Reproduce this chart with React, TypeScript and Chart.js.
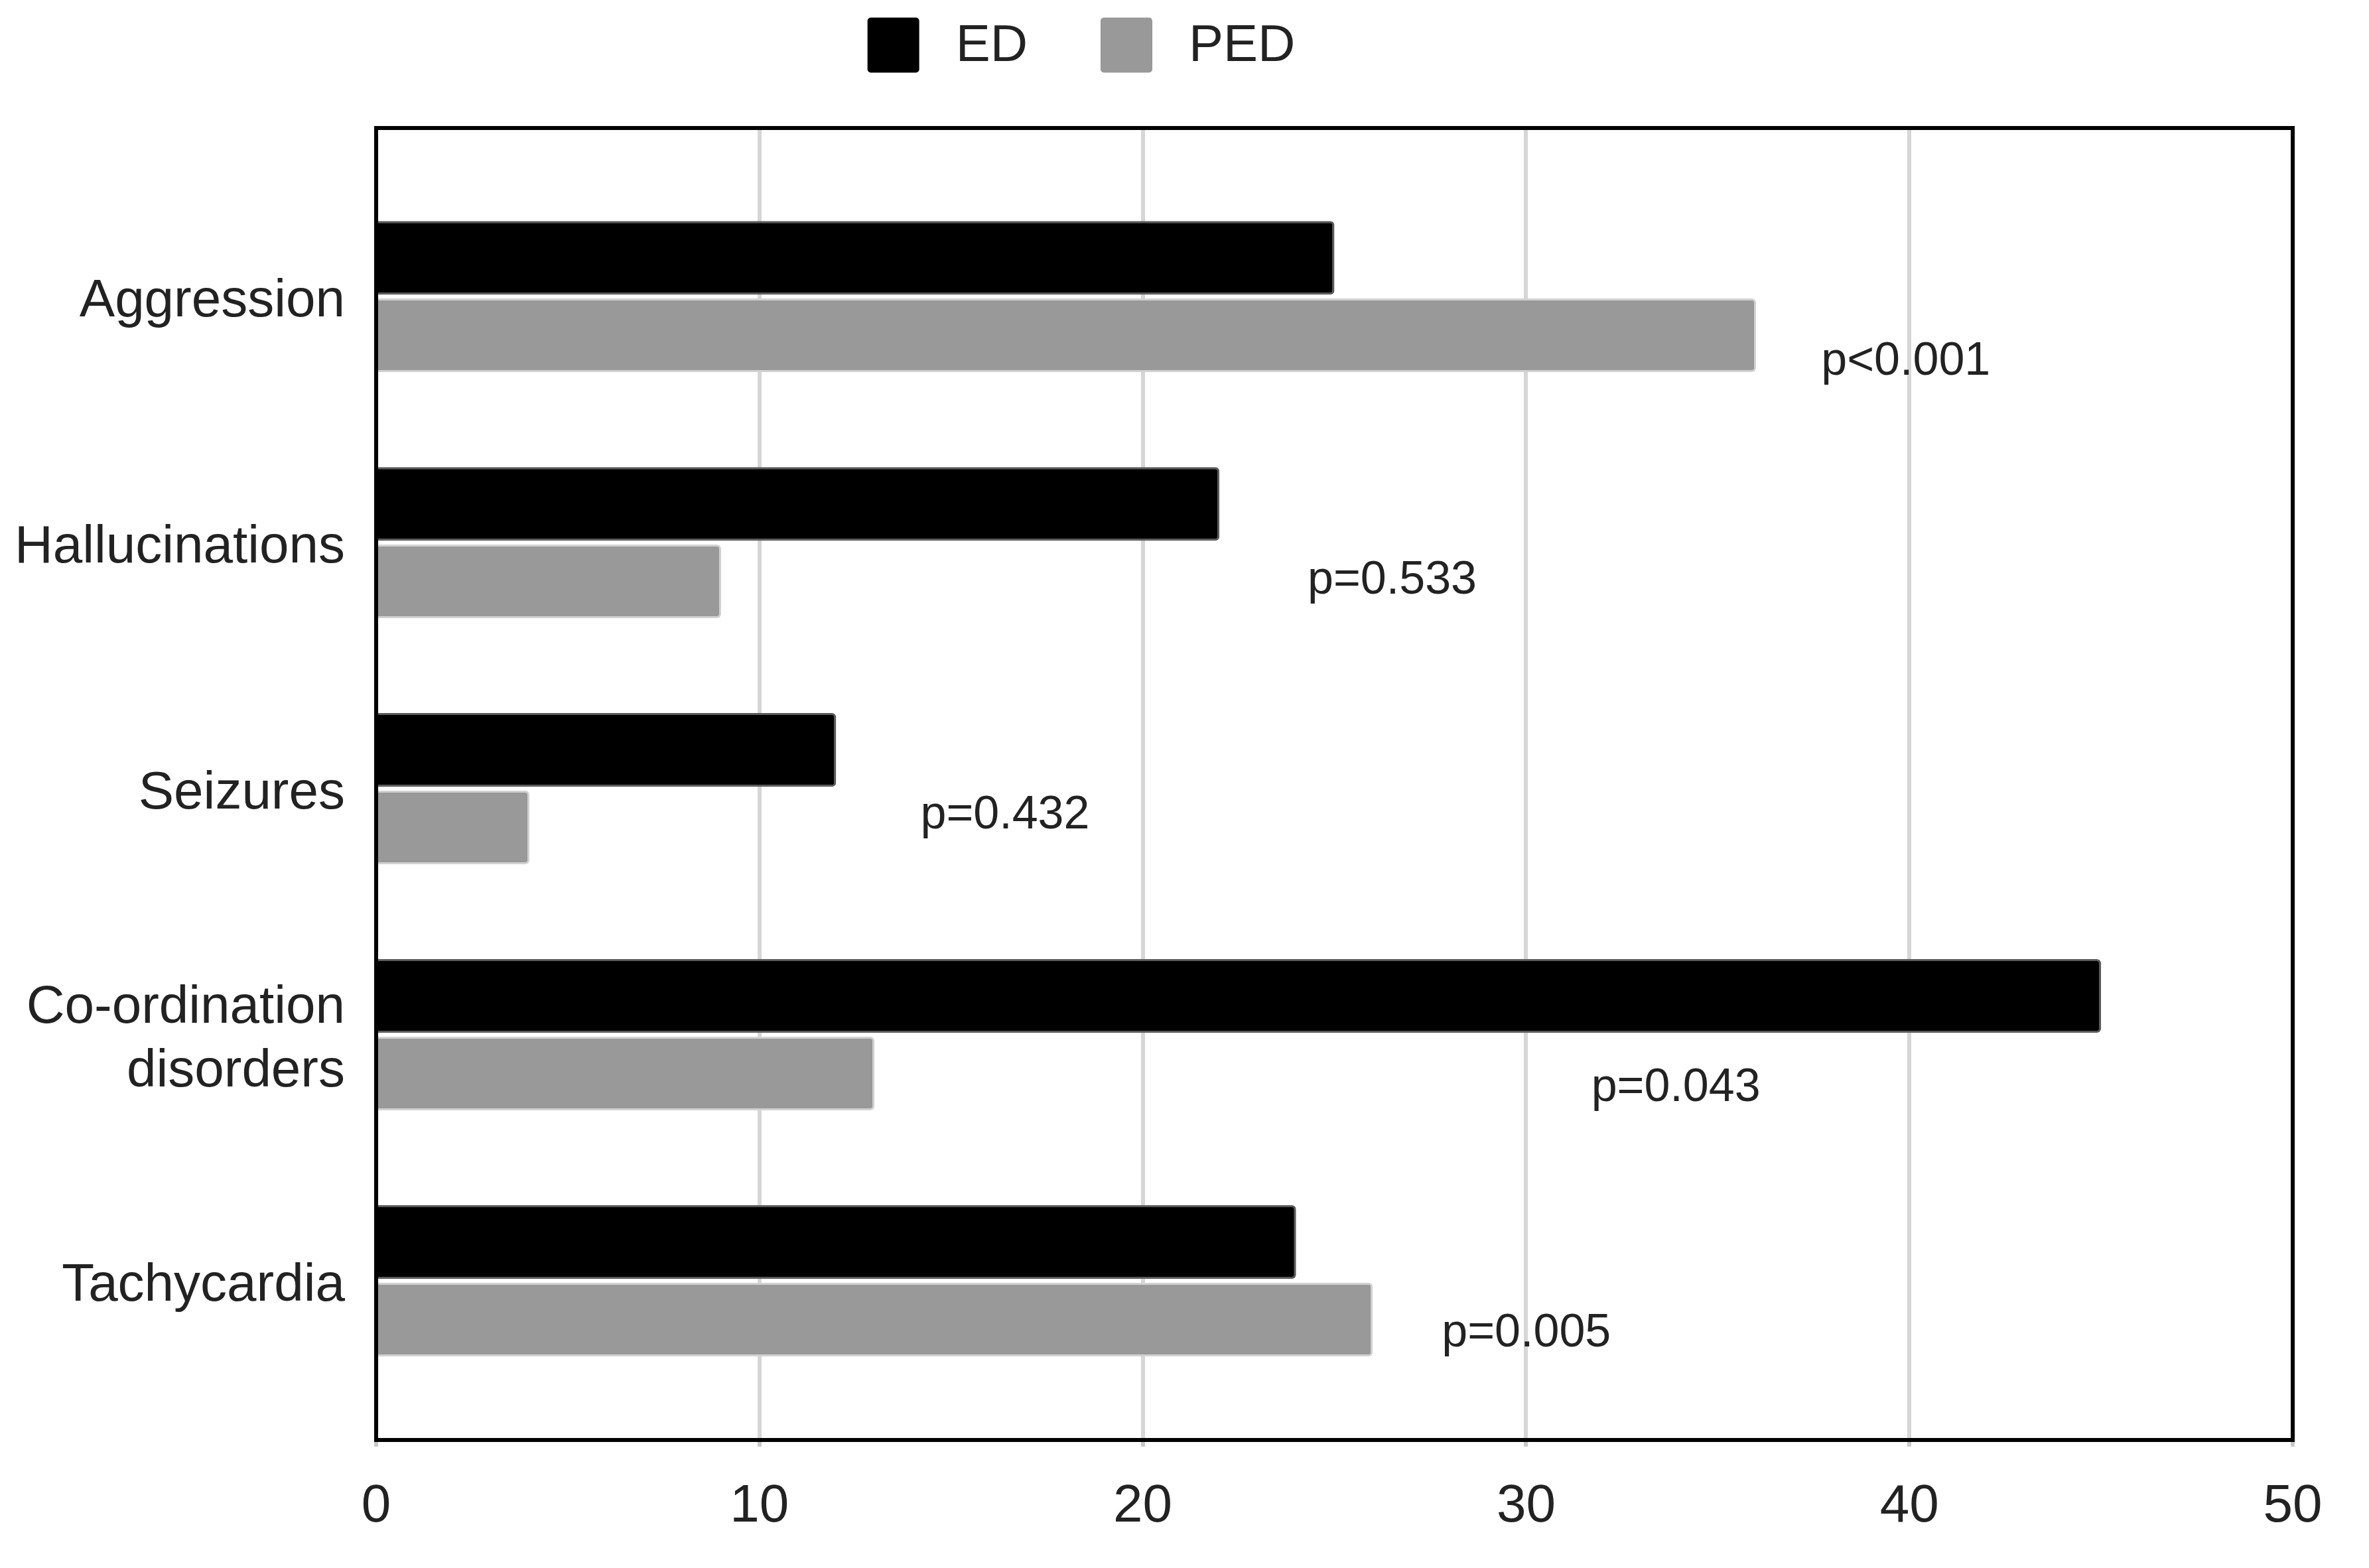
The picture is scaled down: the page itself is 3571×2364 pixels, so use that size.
import React, { useEffect, useRef } from "react";
import { Chart, registerables } from "chart.js";

Chart.register(...registerables);

// ---- data ----
const categories: (string | string[])[] = [
  "Aggression",
  "Hallucinations",
  "Seizures",
  ["Co-ordination", "disorders"],
  "Tachycardia",
];
const seriesNames = ["ED", "PED"];
const edValues = [25, 22, 12, 45, 24];
const pedValues = [36, 9, 4, 13, 26];
const pLabels = ["p<0.001", "p=0.533", "p=0.432", "p=0.043", "p=0.005"];
// annotation anchors in data units (x value, category index offset)
const pLabelX = [37.7, 24.3, 14.2, 31.7, 27.8];
const pLabelYOffset = [0.265, 0.155, 0.11, 0.217, 0.215];
const xTicks = [0, 10, 20, 30, 40, 50];

const FONT = "'Liberation Sans', Arial, Helvetica, sans-serif";
const W = 3555;
const H = 2348;

const framePlugin = {
  id: "frame",
  afterDatasetsDraw(chart: any) {
    const { ctx, chartArea } = chart;
    ctx.save();
    ctx.strokeStyle = "#000";
    ctx.lineWidth = 6;
    ctx.strokeRect(
      chartArea.left,
      chartArea.top,
      chartArea.right - chartArea.left,
      chartArea.bottom - chartArea.top
    );
    ctx.restore();
  },
};

const pLabelPlugin = {
  id: "pLabels",
  afterDatasetsDraw(chart: any) {
    const { ctx } = chart;
    const xs = chart.scales.x;
    const ys = chart.scales.y;
    ctx.save();
    ctx.font = `70px ${FONT}`;
    ctx.fillStyle = "#222";
    ctx.textAlign = "left";
    ctx.textBaseline = "middle";
    pLabels.forEach((t, i) => {
      const x = xs.getPixelForValue(pLabelX[i]);
      const y = ys.getPixelForValue(i + pLabelYOffset[i]);
      ctx.fillText(t, x, y);
    });
    ctx.restore();
  },
};

const legendPlugin = {
  id: "customLegend",
  afterDraw(chart: any) {
    const { ctx } = chart;
    const ds = chart.data.datasets;
    const boxW = 78;
    const boxH = 83;
    const gapBoxText = 55;
    const gapItems = 110;
    const centerX = 1622;
    const centerY = 60;
    ctx.save();
    ctx.font = `78px ${FONT}`;
    const widths = ds.map((d: any) => ctx.measureText(d.label).width);
    let total = 0;
    widths.forEach((w: number, i: number) => {
      total += boxW + gapBoxText + w;
      if (i < widths.length - 1) total += gapItems;
    });
    let x = centerX - total / 2;
    ds.forEach((d: any, i: number) => {
      ctx.fillStyle = d.backgroundColor;
      ctx.beginPath();
      (ctx as any).roundRect(x, centerY - boxH / 2, boxW, boxH, 5);
      ctx.fill();
      ctx.fillStyle = "#222";
      ctx.textAlign = "left";
      ctx.textBaseline = "middle";
      ctx.fillText(d.label, x + boxW + gapBoxText, centerY + 2);
      x += boxW + gapBoxText + widths[i] + gapItems;
    });
    ctx.restore();
  },
};

export default function App() {
  const ref = useRef<HTMLCanvasElement | null>(null);

  useEffect(() => {
    if (!ref.current) return;
    Chart.defaults.font.family = FONT;
    Chart.defaults.color = "#222";

    const chart = new Chart(ref.current, {
      type: "bar",
      data: {
        datasets: [
          {
            label: seriesNames[0],
            data: edValues.map((v, i) => ({ x: v, y: i })),
            backgroundColor: "#000000",
            borderColor: "#5a5a5a",
            borderWidth: 3,
            borderSkipped: "start",
            borderRadius: 6,
            categoryPercentage: 0.63,
            barPercentage: 0.95,
          },
          {
            label: seriesNames[1],
            data: pedValues.map((v, i) => ({ x: v, y: i })),
            backgroundColor: "#999999",
            borderColor: "#d2d2d2",
            borderWidth: 3,
            borderSkipped: "start",
            borderRadius: 6,
            categoryPercentage: 0.63,
            barPercentage: 0.95,
          },
        ] as any,
      },
      options: {
        animation: false,
        responsive: false,
        devicePixelRatio: 1,
        indexAxis: "y",
        layout: { padding: { top: 185, right: 107, left: 0, bottom: 0 } },
        plugins: {
          legend: { display: false },
          tooltip: { enabled: false },
        },
        scales: {
          x: {
            type: "linear",
            position: "bottom",
            min: 0,
            max: 50,
            bounds: "data",
            offset: false,
            afterBuildTicks: (s: any) => {
              s.ticks = xTicks.map((v) => ({ value: v }));
            },
            afterFit: (s: any) => {
              s.height = 185;
            },
            grid: {
              color: "#d6d6d6",
              lineWidth: 6,
              drawTicks: true,
              tickLength: 10,
              tickColor: "#c8c8c8",
              offset: false,
            },
            border: { display: false },
            ticks: {
              font: { size: 80 },
              color: "#222",
              padding: 43,
              maxRotation: 0,
              autoSkip: false,
            },
          },
          y: {
            type: "linear",
            position: "left",
            min: -0.685,
            max: 4.647,
            reverse: true,
            bounds: "data",
            offset: false,
            afterBuildTicks: (s: any) => {
              s.ticks = categories.map((_, i) => ({ value: i }));
            },
            afterFit: (s: any) => {
              s.width = 559;
            },
            grid: { display: false, offset: false },
            border: { display: false },
            ticks: {
              font: { size: 80, lineHeight: 1.2 },
              color: "#222",
              padding: 39,
              labelOffset: 8,
              autoSkip: false,
              callback: (v: any) => categories[Number(v)] ?? "",
            },
          },
        } as any,
      },
      plugins: [framePlugin, pLabelPlugin, legendPlugin],
    });

    return () => chart.destroy();
  }, []);

  return (
    <div style={{ width: W, height: H }}>
      <canvas ref={ref} width={W} height={H} style={{ display: "block" }} />
    </div>
  );
}
